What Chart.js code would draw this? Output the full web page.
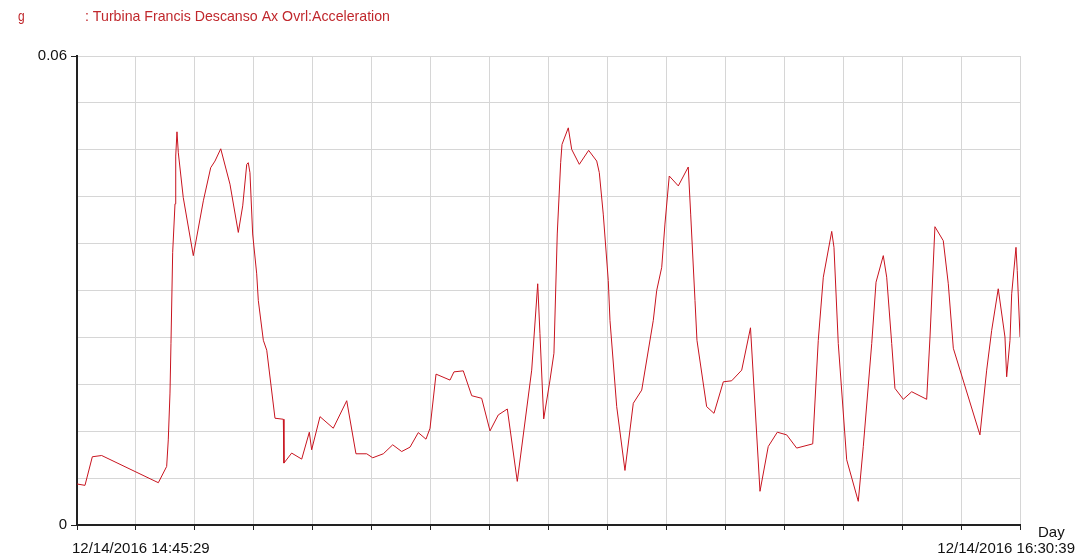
<!DOCTYPE html>
<html>
<head>
<meta charset="utf-8">
<script src="https://cdn.jsdelivr.net/npm/chart.js@4/dist/chart.umd.min.js"></script>
<style>
  html, body { margin: 0; padding: 0; background: #fff; }
  canvas { display: block; }
</style>
</head>
<body>
<canvas id="chart" width="1081" height="559"></canvas>
<script>
// elapsed minutes since 12/14/2016 14:45:29
const minutes = [
  0, 0.89, 1.71, 2.75, 9.07, 10.00, 10.18, 10.37, 10.48, 10.67,
  10.93, 11.01, 11.15, 11.30, 11.85, 12.97, 14.09, 14.91, 15.39, 16.03,
  17.06, 17.99, 18.48, 18.93, 19.10, 19.29, 19.59, 20.04, 20.22, 20.78,
  21.16, 22.08, 23.01, 23.08, 23.94, 25.06, 25.91, 26.17, 27.10, 28.58,
  30.08, 31.11, 32.31, 32.98, 34.16, 35.21, 36.21, 37.14, 38.06, 38.92,
  39.37, 40.04, 41.60, 42.04, 43.08, 44.02, 45.13, 46.06, 46.98, 47.99,
  49.10, 50.71, 51.38, 51.63, 52.05, 52.75, 53.19, 53.56, 53.94, 54.09,
  54.79, 55.17, 56.02, 57.06, 57.96, 58.25, 58.69, 59.25, 59.44, 60.19,
  61.11, 62.04, 62.98, 64.27, 64.65, 65.21, 65.57, 66.05, 67.06, 68.17,
  68.44, 68.92, 69.14, 70.22, 71.04, 72.08, 73.01, 74.13, 75.11, 76.17,
  77.09, 78.10, 79.15, 80.26, 82.05, 82.67, 83.23, 84.17, 84.42, 84.90,
  85.84, 87.13, 87.69, 88.63, 89.11, 89.92, 90.30, 90.86, 91.22, 92.15,
  93.09, 94.76, 95.13, 95.68, 96.61, 97.17, 97.73, 100.70, 101.45, 102.01,
  102.74, 103.49, 103.68, 104.05, 104.24, 104.72, 104.86, 105.17
];

// g
const acceleration = [
  0.00525, 0.00507, 0.00873, 0.00889, 0.00541, 0.00749, 0.01089, 0.01688, 0.02325, 0.03488,
  0.04109, 0.04720, 0.05030, 0.04762, 0.04189, 0.03446, 0.04147, 0.04571, 0.04656, 0.04813,
  0.04360, 0.03743, 0.04083, 0.04614, 0.04635, 0.04507, 0.03723, 0.03213, 0.02873, 0.02363,
  0.02236, 0.01366, 0.01353, 0.00792, 0.00920, 0.00843, 0.01187, 0.00962, 0.01386, 0.01238,
  0.01590, 0.00911, 0.00911, 0.00860, 0.00911, 0.01026, 0.00940, 0.00996, 0.01182, 0.01098,
  0.01238, 0.01930, 0.01854, 0.01959, 0.01972, 0.01654, 0.01621, 0.01204, 0.01408, 0.01484,
  0.00558, 0.01981, 0.03086, 0.02449, 0.01357, 0.01854, 0.02198, 0.03723, 0.04635, 0.04869,
  0.05081, 0.04805, 0.04614, 0.04793, 0.04656, 0.04507, 0.03977, 0.03128, 0.02618, 0.01514,
  0.00698, 0.01557, 0.01726, 0.02618, 0.03000, 0.03297, 0.03850, 0.04465, 0.04338, 0.04580,
  0.03977, 0.02873, 0.02363, 0.01514, 0.01429, 0.01832, 0.01845, 0.01981, 0.02523, 0.00431,
  0.01004, 0.01187, 0.01153, 0.00984, 0.01038, 0.02363, 0.03170, 0.03756, 0.03552, 0.02321,
  0.00834, 0.00303, 0.01004, 0.02321, 0.03106, 0.03446, 0.03170, 0.02321, 0.01748, 0.01608,
  0.01705, 0.01608, 0.02405, 0.03816, 0.03637, 0.03086, 0.02261, 0.01153, 0.01981, 0.02491,
  0.03022, 0.02405, 0.01896, 0.02363, 0.02958, 0.03552, 0.03255, 0.02405
];

const xTickLabels = ['12/14/2016 14:45:29', '12/14/2016 16:30:39'];
const yTickLabels = ['0', '0.06'];
const unitLabel = 'g';
const seriesName = ': Turbina Francis Descanso Ax Ovrl:Acceleration';
const xAxisName = 'Day';

const spanMinutes = 105.1667; // 1h45m10s
const xSteps = 16;
const yMax = 0.06;
const ySteps = 10;

const textPlugin = {
  id: 'textPlugin',
  afterDraw(chart) {
    const ctx = chart.ctx;
    const area = chart.chartArea;
    ctx.save();
    ctx.fillStyle = '#c0282d';
    ctx.textBaseline = 'middle';
    ctx.textAlign = 'left';
    // condensed look of the original header
    ctx.font = '15px "Liberation Sans", Arial, sans-serif';
    ctx.save();
    ctx.translate(18, 17);
    ctx.scale(0.8, 1);
    ctx.fillText(unitLabel, 0, 0);
    ctx.restore();
    const w = ctx.measureText(seriesName).width;
    ctx.save();
    ctx.translate(85, 17);
    ctx.scale(305 / w, 1);
    ctx.fillText(seriesName, 0, 0);
    ctx.restore();

    ctx.fillStyle = '#111';
    ctx.font = '15px "Liberation Sans", Arial, sans-serif';
    ctx.fillText(xAxisName, area.right + 18, area.bottom + 8);
    ctx.fillText(xTickLabels[0], area.left - 5, area.bottom + 24);
    ctx.textAlign = 'right';
    ctx.fillText(xTickLabels[1], area.right + 55, area.bottom + 24);
    ctx.restore();
  }
};

const data = {
  datasets: [{
    label: seriesName,
    data: minutes.map((m, i) => ({ x: m, y: acceleration[i] })),
    borderColor: '#c8141f',
    borderWidth: 1,
    pointRadius: 0,
    tension: 0,
    fill: false
  }]
};

const config = {
  type: 'line',
  data: data,
  options: {
    responsive: false,
    animation: false,
    devicePixelRatio: 1,
    layout: { padding: { top: 56, right: 61, left: 0, bottom: 0 } },
    plugins: {
      legend: { display: false },
      tooltip: { enabled: false }
    },
    scales: {
      x: {
        type: 'linear',
        min: 0,
        max: spanMinutes,
        afterBuildTicks(scale) {
          scale.ticks = Array.from({ length: xSteps + 1 }, (_, i) => ({ value: spanMinutes * i / xSteps }));
        },
        afterFit(scale) { scale.height = 34; },
        border: { color: '#222', width: 2 },
        grid: { color: '#d6d6d6', lineWidth: 1, tickLength: 5, tickColor: '#222' },
        ticks: { callback: () => '', maxRotation: 0, autoSkip: false }
      },
      y: {
        min: 0,
        max: yMax,
        afterBuildTicks(scale) {
          scale.ticks = Array.from({ length: ySteps + 1 }, (_, i) => ({ value: yMax * i / ySteps }));
        },
        afterFit(scale) { scale.width = 77; },
        border: { color: '#222', width: 2 },
        grid: {
          color: '#d6d6d6',
          lineWidth: 1,
          tickLength: 6,
          tickColor: (c) => (c.index === 0 || c.index === ySteps) ? '#222' : 'rgba(0,0,0,0)'
        },
        ticks: {
          autoSkip: false,
          padding: 4,
          color: '#111',
          font: { family: '"Liberation Sans", Arial, sans-serif', size: 15 },
          callback: (v, i) => i === 0 ? yTickLabels[0] : (i === ySteps ? yTickLabels[1] : '')
        }
      }
    }
  },
  plugins: [textPlugin]
};

new Chart(document.getElementById('chart'), config);
</script>
</body>
</html>
